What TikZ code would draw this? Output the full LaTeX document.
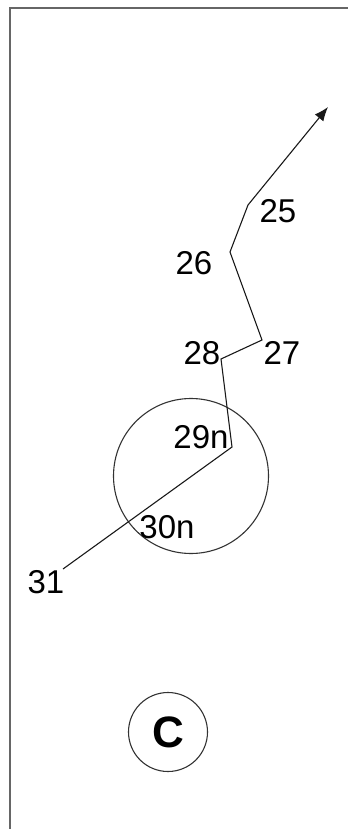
\documentclass[tikz,border=0pt]{standalone}
\usepackage{fontspec}
\setmainfont{Liberation Sans}
\usepackage{tikz}
\usetikzlibrary{arrows.meta}
\tikzset{
  route/.style={black!90, line width=1.1pt},
  lbl/.style={font=\fontsize{33}{33}\selectfont, inner sep=0pt},
  ring/.style={draw=black!80, line width=1.1pt, circle, inner sep=0pt},
}

\begin{document}
\begin{tikzpicture}[x=1pt,y=-1pt]
  \useasboundingbox (0,0) rectangle (348,829);
  \draw[black!60, line width=2pt] (10,829) -- (10,8) -- (348,8);
  % bends of the track
  \coordinate (tip) at (328,107);
  \coordinate (p25) at (248,205);
  \coordinate (p26) at (230,252);
  \coordinate (p27) at (262,340);
  \coordinate (p28) at (221,359);
  \coordinate (p29) at (232,447);
  \coordinate (p31) at (63,569);
  \node[ring, minimum size=155] (zone) at (191,476) {};
  \draw[route, -{Latex[length=14pt,width=11pt]}] (p31) -- (p29) -- (p28) -- (p27) -- (p26) -- (p25) -- (tip);
  \node[lbl] (l25) at (278,211) {25};
  \node[lbl] (l26) at (194,263) {26};
  \node[lbl] (l27) at (282,353) {27};
  \node[lbl] (l28) at (202,353) {28};
  \node[lbl] (l29) at (201,437) {29n};
  \node[lbl] (l30) at (167,527) {30n};
  \node[lbl] (l31) at (46,582) {31};
  \node[ring, minimum size=79, font=\fontsize{44}{44}\selectfont\bfseries] (mark) at (168,732) {C};
\end{tikzpicture}
\end{document}
